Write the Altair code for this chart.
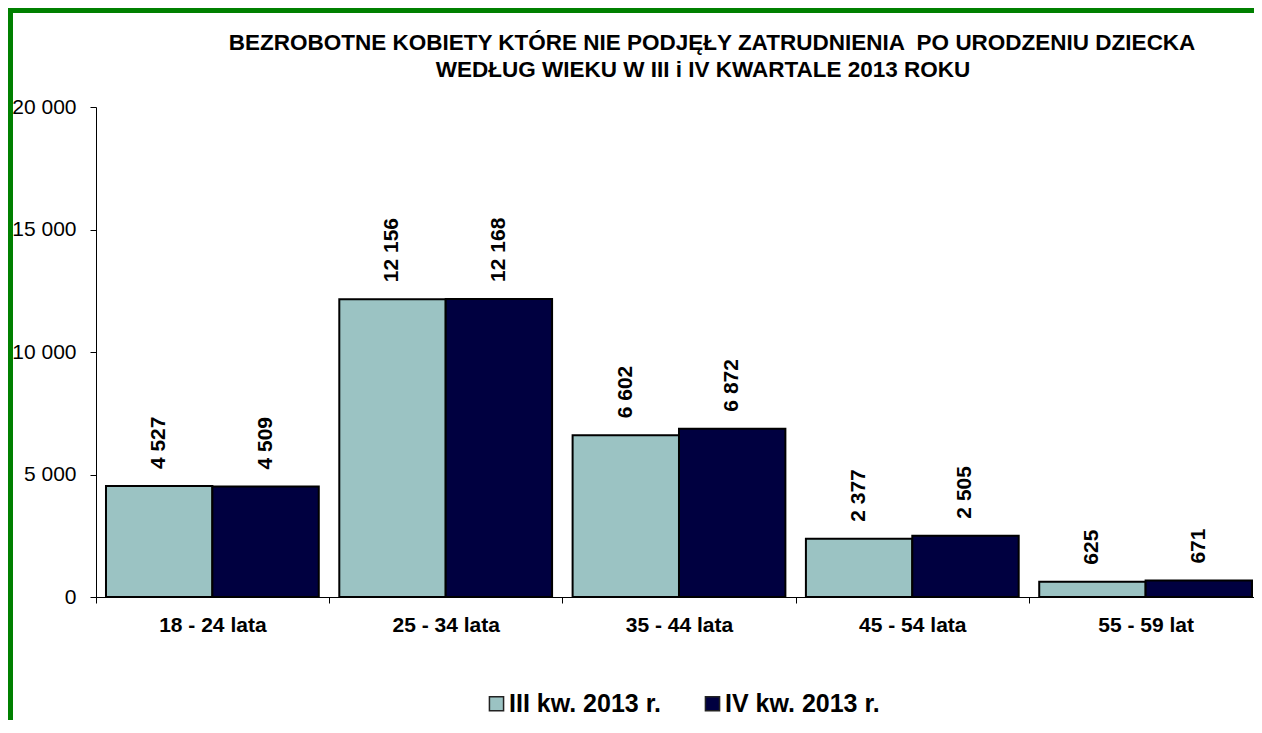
import altair as alt
import pandas as pd

categories = ["18 - 24 lata", "25 - 34 lata", "35 - 44 lata", "45 - 54 lata", "55 - 59 lat"]
series_names = ["III kw. 2013 r.", "IV kw. 2013 r."]
q3_values = [4527, 12156, 6602, 2377, 625]
q4_values = [4509, 12168, 6872, 2505, 671]
colors = ["#9BC3C3", "#000040"]
title_lines = [
    "BEZROBOTNE KOBIETY KTÓRE NIE PODJĘŁY ZATRUDNIENIA \u00a0PO URODZENIU DZIECKA",
    "WEDŁUG WIEKU W III i IV KWARTALE 2013 ROKU",
]

rows = []
for c, a, b in zip(categories, q3_values, q4_values):
    rows.append({"kat": c, "seria": series_names[0], "wartosc": a})
    rows.append({"kat": c, "seria": series_names[1], "wartosc": b})
df = pd.DataFrame(rows)

FONT = "Liberation Sans"
W, H = 1158, 490
PI, PO, AL = 0.088, 0.0257, 0.833
step = W / (len(categories) - PI + 2 * PO)

x_enc = alt.X(
    "kat:N",
    sort=categories,
    title=None,
    scale=alt.Scale(paddingInner=PI, paddingOuter=PO, align=AL),
    axis=alt.Axis(
        labelFont=FONT, labelFontSize=21, labelFontWeight="bold", labelColor="black",
        labelAngle=0, domainColor="black", tickColor="black", tickSize=6,
        labelPadding=11, tickOffset=-step / 2, labelOffset=step / 2,
    ),
)
y_enc = alt.Y(
    "wartosc:Q",
    title=None,
    scale=alt.Scale(domain=[0, 20000]),
    axis=alt.Axis(
        values=[0, 5000, 10000, 15000, 20000], format=",d", grid=False,
        labelFont=FONT, labelFontSize=21, labelColor="black",
        domainColor="black", tickColor="black", tickSize=6, labelPadding=14,
    ),
)
xoff = alt.XOffset("seria:N", sort=series_names, scale=alt.Scale(paddingInner=0, paddingOuter=0))

base = alt.Chart(df)

bars = base.mark_bar(stroke="black", strokeWidth=2).encode(
    x=x_enc,
    xOffset=xoff,
    y=y_enc,
    color=alt.Color(
        "seria:N",
        sort=series_names,
        scale=alt.Scale(domain=series_names, range=colors),
        legend=alt.Legend(
            title=None, orient="none", direction="horizontal",
            legendX=388, legendY=584,
            symbolType="square", symbolSize=200, symbolStrokeColor="#222",
            symbolStrokeWidth=1.5, labelFont=FONT, labelFontSize=25,
            labelFontWeight="bold", labelColor="black", columnPadding=39,
            labelOffset=0,
        ),
    ),
)

labels = base.mark_text(
    angle=270, align="left", baseline="middle", dx=17,
    font=FONT, fontSize=21, fontWeight="bold", color="black",
).encode(
    x=alt.X("kat:N", sort=categories),
    xOffset=xoff,
    y="wartosc:Q",
    text=alt.Text("wartosc:Q", format=",d"),
)

one = pd.DataFrame({"f": [0]})
title1 = alt.Chart(one).mark_text(
    font=FONT, fontSize=22.5, fontWeight="bold", color="black", align="center", baseline="alphabetic"
).encode(x=alt.value(616), y=alt.value(-57), text=alt.value(title_lines[0]))
title2 = alt.Chart(one).mark_text(
    font=FONT, fontSize=22.5, fontWeight="bold", color="black", align="center", baseline="alphabetic"
).encode(x=alt.value(607), y=alt.value(-30), text=alt.value(title_lines[1]))

frame_top = alt.Chart(one).mark_rule(color="#008000", strokeWidth=5).encode(
    x=alt.value(-88), x2=alt.value(1170), y=alt.value(-96.5)
)
frame_left = alt.Chart(one).mark_rule(color="#008000", strokeWidth=5).encode(
    x=alt.value(-85.5), y=alt.value(-99), y2=alt.value(640)
)

chart = alt.layer(bars, labels, title1, title2, frame_top, frame_left).properties(
    width=W,
    height=H,
    autosize=alt.AutoSizeParams(type="none"),
    padding={"left": 88, "top": 99, "right": 0, "bottom": 123},
).configure(
    locale={"number": {"decimal": ",", "thousands": " ", "grouping": [3], "currency": ["", " zł"]}}
).configure_view(stroke=None)

chart.save("out.html", embed_options={"renderer": "svg", "actions": False})
